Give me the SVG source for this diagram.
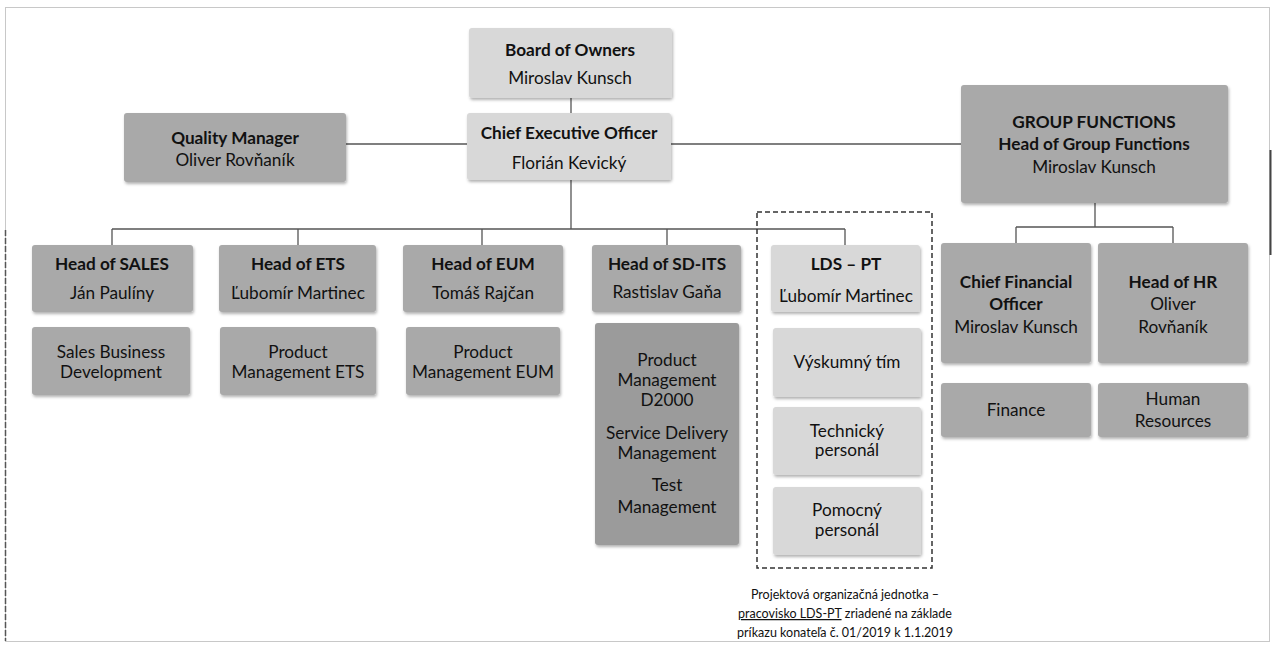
<svg xmlns="http://www.w3.org/2000/svg" width="1273" height="645" viewBox="0 0 1273 645">
<defs>
<filter id="sh" x="-10%" y="-10%" width="125%" height="130%">
<feDropShadow dx="1" dy="2" stdDeviation="1.5" flood-color="#000" flood-opacity="0.3"/>
</filter>
<style>
.box{filter:url(#sh);stroke:none}
.lt{fill:#d8d8d8}
.dk{fill:#a9a9a9}
.dd{fill:#9b9b9b}
text{font-family:Lato,"Liberation Sans",sans-serif;font-size:17.2px;fill:#111;text-anchor:middle}
.b{font-weight:bold}
.cap{font-size:12.5px}
.ln{stroke:#555;stroke-width:1.3;fill:none}
</style>
</defs>
<rect x="5.5" y="7.5" width="1264" height="634" fill="#fff" stroke="#c8c8c8" stroke-width="1"/>
<line x1="5.5" y1="230" x2="5.5" y2="641" stroke="#555" stroke-width="1.5" stroke-dasharray="6,2"/>
<line x1="1270.5" y1="150" x2="1270.5" y2="255" stroke="#444" stroke-width="2"/>
<g id="connectors">
<path class="ln" d="M571 98V113"/>
<path class="ln" d="M346 144H467"/>
<path class="ln" d="M671 144H961"/>
<path class="ln" d="M571 180V229"/>
<path class="ln" d="M112 229H845"/>
<path class="ln" d="M112 229V245M298 229V245M482 229V245M667 229V245M845 229V245"/>
<path class="ln" d="M1095 203V227M1016 227H1173M1016 227V243M1173 227V243"/>
</g>
<g id="lds-group">
<rect x="757" y="212" width="175" height="356" fill="none" stroke="#333" stroke-width="1.5" stroke-dasharray="5,3"/>
</g>
<g id="board">
<rect class="box lt" x="469" y="28" width="203" height="70" rx="3"/>
<text class="b" x="570" y="56">Board of Owners</text>
<text x="570" y="84">Miroslav Kunsch</text>
</g>
<g id="ceo">
<rect class="box lt" x="467" y="113" width="204" height="67" rx="3"/>
<text class="b" x="569" y="139">Chief Executive Officer</text>
<text x="569" y="169">Florián Kevický</text>
</g>
<g id="qm">
<rect class="box dk" x="124" y="113" width="222" height="69" rx="3"/>
<text class="b" x="235" y="144">Quality Manager</text>
<text x="235" y="166">Oliver Rovňaník</text>
</g>
<g id="gf">
<rect class="box dk" x="961" y="85" width="267" height="118" rx="3"/>
<text class="b" x="1094" y="128">GROUP FUNCTIONS</text>
<text class="b" x="1094" y="150">Head of Group Functions</text>
<text x="1094" y="173">Miroslav Kunsch</text>
</g>
<g id="sales">
<rect class="box dk" x="32" y="245" width="161" height="67" rx="3"/>
<text class="b" x="112" y="270">Head of SALES</text>
<text x="112" y="299">Ján Paulíny</text>
</g>
<g id="ets">
<rect class="box dk" x="219" y="245" width="157" height="67" rx="3"/>
<text class="b" x="298" y="270">Head of ETS</text>
<text x="298" y="299">Ľubomír Martinec</text>
</g>
<g id="eum">
<rect class="box dk" x="403" y="245" width="160" height="67" rx="3"/>
<text class="b" x="483" y="270">Head of EUM</text>
<text x="483" y="299">Tomáš Rajčan</text>
</g>
<g id="sdits">
<rect class="box dk" x="592" y="245" width="149" height="67" rx="3"/>
<text class="b" x="667" y="270">Head of SD-ITS</text>
<text x="667" y="298">Rastislav Gaňa</text>
</g>
<g id="ldspt">
<rect class="box lt" x="771" y="245" width="149" height="67" rx="3"/>
<text class="b" x="846" y="270">LDS – PT</text>
<text x="846" y="302">Ľubomír Martinec</text>
</g>
<g id="cfo">
<rect class="box dk" x="941" y="243" width="150" height="120" rx="3"/>
<text class="b" x="1016" y="288">Chief Financial</text>
<text class="b" x="1016" y="310">Officer</text>
<text x="1016" y="333">Miroslav Kunsch</text>
</g>
<g id="hr">
<rect class="box dk" x="1098" y="243" width="150" height="120" rx="3"/>
<text class="b" x="1173" y="288">Head of HR</text>
<text x="1173" y="310">Oliver</text>
<text x="1173" y="333">Rovňaník</text>
</g>
<g id="sales-bd">
<rect class="box dk" x="32" y="327" width="158" height="68" rx="3"/>
<text x="111" y="358">Sales Business</text>
<text x="111" y="378">Development</text>
</g>
<g id="pm-ets">
<rect class="box dk" x="220" y="327" width="156" height="68" rx="3"/>
<text x="298" y="358">Product</text>
<text x="298" y="378">Management ETS</text>
</g>
<g id="pm-eum">
<rect class="box dk" x="406" y="327" width="154" height="68" rx="3"/>
<text x="483" y="358">Product</text>
<text x="483" y="378">Management EUM</text>
</g>
<g id="sdits-units">
<rect class="box dd" x="595" y="323" width="144" height="222" rx="3"/>
<text x="667" y="366">Product</text>
<text x="667" y="386">Management</text>
<text x="667" y="406">D2000</text>
<text x="667" y="439">Service Delivery</text>
<text x="667" y="459">Management</text>
<text x="667" y="491">Test</text>
<text x="667" y="513">Management</text>
</g>
<g id="vyskumny">
<rect class="box lt" x="773" y="328" width="148" height="69" rx="3"/>
<text x="847" y="368">Výskumný tím</text>
</g>
<g id="technicky">
<rect class="box lt" x="773" y="407" width="148" height="68" rx="3"/>
<text x="847" y="437">Technický</text>
<text x="847" y="456">personál</text>
</g>
<g id="pomocny">
<rect class="box lt" x="773" y="487" width="148" height="68" rx="3"/>
<text x="847" y="516">Pomocný</text>
<text x="847" y="536">personál</text>
</g>
<g id="finance">
<rect class="box dk" x="941" y="383" width="150" height="54" rx="3"/>
<text x="1016" y="416">Finance</text>
</g>
<g id="hres">
<rect class="box dk" x="1098" y="383" width="150" height="54" rx="3"/>
<text x="1173" y="405">Human</text>
<text x="1173" y="427">Resources</text>
</g>
<g id="caption">
<text class="cap" x="845" y="599">Projektová organizačná jednotka –</text>
<text class="cap" x="845" y="618"><tspan text-decoration="underline">pracovisko LDS-PT</tspan> zriadené na základe</text>
<text class="cap" x="845" y="637">príkazu konateľa č. 01/2019 k 1.1.2019</text>
</g>
</svg>
